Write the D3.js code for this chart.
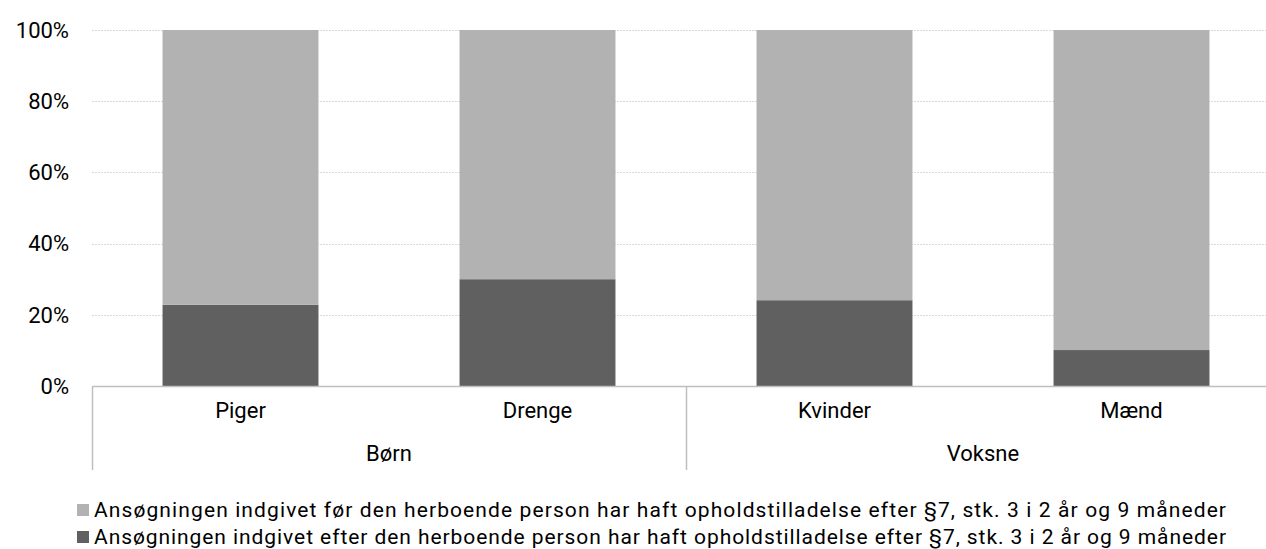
<!DOCTYPE html>
<html>
<head>
<meta charset="utf-8">
<script src="https://cdn.jsdelivr.net/npm/d3@7"></script>
<style>
  body { margin: 0; background: #fff; overflow: hidden; }
  text { font-family: Roboto, "DejaVu Sans", sans-serif; fill: #000; }
</style>
</head>
<body>
<div id="chart"></div>
<script>
const categories = ["Piger", "Drenge", "Kvinder", "Mænd"];
const groups = ["Børn", "Børn", "Voksne", "Voksne"];
const groupNames = ["Børn", "Voksne"];
// share of applications (percent)
const afterValues = [22.8, 30.0, 24.1, 10.1];
const beforeValues = [77.2, 70.0, 75.9, 89.9];
const seriesNames = [
    "Ansøgningen indgivet før den herboende person har haft opholdstilladelse efter §7, stk. 3 i 2 år og 9 måneder",
    "Ansøgningen indgivet efter den herboende person har haft opholdstilladelse efter §7, stk. 3 i 2 år og 9 måneder"
];
const yTicks = [0, 20, 40, 60, 80, 100];

const width = 1266, height = 549;
const margin = { left: 92, right: -14, top: 30, bottom: 163 };
const colors = { before: "#b2b2b2", after: "#606060" };
const fontSize = "22px";

const svg = d3.select("#chart").append("svg")
    .attr("width", width)
    .attr("height", height)
    .style("display", "block");

const x = d3.scaleBand()
    .domain(categories)
    .range([margin.left, width - margin.right])
    .paddingInner(0.475)
    .paddingOuter(0.2375);

const y = d3.scaleLinear()
    .domain([0, 100])
    .range([height - margin.bottom, margin.top]);

// gridlines
svg.append("g")
    .selectAll("line")
    .data(yTicks.filter(d => d > 0))
  .enter().append("line")
    .attr("x1", margin.left)
    .attr("x2", width)
    .attr("y1", d => Math.round(y(d)) + 0.5)
    .attr("y2", d => Math.round(y(d)) + 0.5)
    .attr("stroke", "#d9d9d9")
    .attr("stroke-width", 1)
    .attr("stroke-dasharray", "2,1");

// y tick labels
svg.append("g")
    .selectAll("text")
    .data(yTicks)
  .enter().append("text")
    .attr("x", 69)
    .attr("y", d => y(d))
    .attr("dy", "0.35em")
    .attr("text-anchor", "end")
    .attr("font-size", fontSize)
    .text(d => d + "%");

const stackData = categories.map((c, i) => ({ cat: c, after: afterValues[i], before: beforeValues[i] }));
const stack = d3.stack().keys(["after", "before"])(stackData);

svg.append("g")
    .selectAll("g")
    .data(stack)
  .enter().append("g")
    .attr("fill", d => colors[d.key])
    .selectAll("rect")
    .data(d => d)
  .enter().append("rect")
    .attr("x", d => x(d.data.cat))
    .attr("width", x.bandwidth())
    .attr("y", d => y(d[1]))
    .attr("height", d => y(d[0]) - y(d[1]));

// x axis line
const axisY = Math.round(y(0)) + 0.5;
svg.append("line")
    .attr("x1", margin.left)
    .attr("x2", width)
    .attr("y1", axisY)
    .attr("y2", axisY)
    .attr("stroke", "#bfbfbf")
    .attr("stroke-width", 1.5);

// category labels
svg.append("g")
    .selectAll("text")
    .data(categories)
  .enter().append("text")
    .attr("x", d => x(d) + x.bandwidth() / 2)
    .attr("y", 418)
    .attr("text-anchor", "middle")
    .attr("font-size", fontSize)
    .text(d => d);

// group labels and separators
const step = x.step();
const groupSpans = groupNames.map(g => {
    const idx = groups.map((v, i) => v === g ? i : -1).filter(i => i >= 0);
    const x0 = x(categories[idx[0]]) - x.paddingInner() * step / 2;
    const x1 = x(categories[idx[idx.length - 1]]) + x.bandwidth() + x.paddingInner() * step / 2;
    return { name: g, x0, x1 };
});

svg.append("g")
    .selectAll("text")
    .data(groupSpans)
  .enter().append("text")
    .attr("x", d => (d.x0 + d.x1) / 2)
    .attr("y", 461)
    .attr("text-anchor", "middle")
    .attr("font-size", fontSize)
    .text(d => d.name);

svg.append("g")
    .selectAll("line")
    .data(groupSpans)
  .enter().append("line")
    .attr("x1", d => Math.round(d.x0) + 0.5)
    .attr("x2", d => Math.round(d.x0) + 0.5)
    .attr("y1", axisY)
    .attr("y2", 470)
    .attr("stroke", "#bfbfbf")
    .attr("stroke-width", 1.5);

// legend
const legend = svg.append("g")
    .selectAll("g")
    .data(seriesNames)
  .enter().append("g")
    .attr("transform", (d, i) => `translate(77, ${510 + i * 27})`);

legend.append("rect")
    .attr("x", 0)
    .attr("y", -6)
    .attr("width", 12)
    .attr("height", 12)
    .attr("fill", (d, i) => i === 0 ? colors.before : colors.after);

legend.append("text")
    .attr("x", 17)
    .attr("dy", "0.35em")
    .attr("font-size", "21px")
    .attr("textLength", 1132)
    .attr("lengthAdjust", "spacing")
    .text(d => d);
</script>
</body>
</html>
